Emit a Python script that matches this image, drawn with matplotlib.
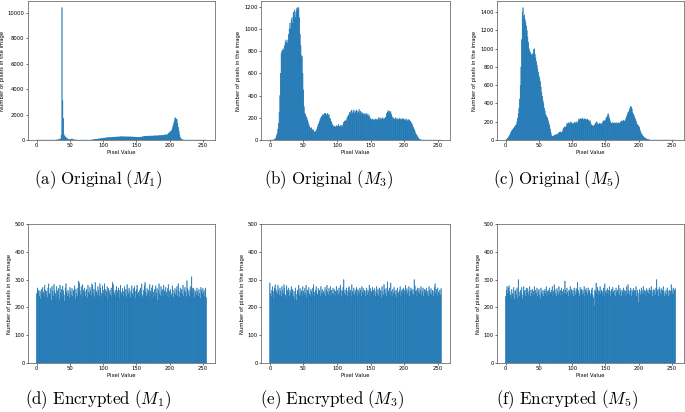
import matplotlib
matplotlib.use("Agg")
import matplotlib.pyplot as plt
import numpy as np

plt.rcParams['mathtext.fontset'] = 'cm'

pixel_values = list(range(256))

orig_m1 = [
    0,0,0,0,0,0,0,0,0,0,0,0,0,0,0,0,
    0,0,0,0,0,0,0,0,0,0,0,0,0,0,5,10,
    20,30,40,60,100,400,10400,3100,1700,420,300,250,200,150,100,60,
    40,30,30,40,60,100,40,20,10,5,3,2,0,0,0,0,
    0,0,0,0,0,0,0,0,0,0,0,0,0,0,0,0,
    0,0,0,0,10,20,30,40,50,60,60,70,80,80,90,100,
    100,110,120,130,140,150,150,160,170,170,180,180,190,190,200,200,
    200,210,210,220,220,230,220,230,240,230,240,250,240,250,260,250,
    260,250,260,250,260,250,240,250,240,250,240,250,240,250,240,230,
    240,230,240,220,230,220,210,220,200,210,200,210,220,230,240,250,
    260,270,280,290,300,300,310,300,310,300,310,320,310,320,310,320,
    320,330,320,330,320,330,340,330,340,350,340,350,360,370,380,360,
    380,420,400,380,420,450,500,550,600,650,700,750,900,1100,1300,1500,
    1700,1750,1650,1600,1300,1000,700,400,200,100,60,30,10,0,0,0,
    0,0,0,0,0,0,0,0,0,0,0,0,0,0,0,0,
    0,0,0,0,0,0,0,0,0,0,0,0,0,0,0,0,
]

orig_m3 = [
    0,0,0,0,0,0,2,5,10,20,40,60,100,150,250,400,
    600,780,800,810,820,800,850,880,900,880,870,900,950,1000,1050,1000,
    1080,1100,1050,1150,1120,1170,1100,1150,1180,1190,1160,1190,1100,950,850,760,
    750,600,450,300,240,230,210,200,180,160,140,120,110,100,110,90,
    95,85,75,70,75,85,100,120,140,150,170,190,200,210,220,230,
    220,240,230,240,230,220,240,220,230,200,190,170,160,140,130,120,
    125,120,115,130,120,125,140,120,125,130,115,130,120,140,160,170,
    165,180,170,200,210,220,230,250,240,260,270,240,250,270,240,260,
    250,270,240,260,250,275,240,260,230,250,240,230,240,230,220,240,
    230,220,235,210,220,200,190,185,180,190,175,185,180,190,170,185,
    180,190,200,180,200,190,185,195,200,190,185,195,200,210,240,250,
    265,250,260,240,255,230,210,190,200,185,190,200,180,195,185,190,
    180,195,185,190,180,195,185,190,180,185,175,190,180,170,185,175,
    180,170,160,150,140,120,110,95,80,60,50,40,30,20,10,5,
    3,2,0,0,0,0,0,0,0,0,0,0,0,0,0,0,
    0,0,0,0,0,0,0,0,0,0,0,0,0,0,0,0,
]

orig_m5 = [
    0,5,10,20,30,40,55,70,90,100,110,120,130,140,150,160,
    170,200,240,290,350,450,600,800,1100,1400,1450,1350,1370,1320,1290,1250,
    1200,1130,1070,1000,980,960,930,940,930,950,990,1000,940,900,860,820,
    780,740,700,680,640,580,520,480,430,400,350,320,280,265,250,240,
    210,180,160,120,80,50,40,40,45,50,55,55,60,60,65,70,
    80,85,90,85,80,90,110,130,140,145,140,150,180,175,190,185,
    180,200,175,190,180,185,175,190,195,180,200,185,190,210,230,220,
    235,230,225,240,230,220,235,225,230,215,225,230,220,215,200,210,
    180,165,160,155,150,160,170,185,190,200,180,175,170,185,175,180,
    175,180,200,210,205,215,210,240,250,265,290,270,240,210,190,185,
    180,190,185,180,190,185,175,190,180,185,190,180,185,200,205,210,
    200,215,210,205,220,240,260,285,300,310,330,350,370,360,340,300,
    285,270,250,230,210,190,170,160,155,140,110,90,70,60,50,40,
    30,25,20,15,10,8,5,3,2,0,0,0,0,0,0,0,
    0,0,0,0,0,0,0,0,0,0,0,0,0,0,0,0,
    0,0,0,0,0,0,0,0,0,0,0,0,0,0,0,0,
]

enc_m1 = [
    250,270,255,262,240,258,230,265,248,272,255,238,280,262,245,258,
    236,270,285,250,242,268,225,276,258,240,283,262,250,230,275,260,
    244,268,228,280,252,265,238,276,260,245,222,270,285,255,240,262,
    250,235,272,258,245,268,240,262,255,278,232,266,250,240,270,295,
    288,260,245,275,238,282,262,250,270,240,258,265,235,280,255,248,
    272,260,242,285,278,250,266,238,290,262,255,245,275,260,240,285,
    270,252,236,278,262,248,285,265,240,258,275,230,268,252,262,245,
    270,240,290,282,255,248,262,238,275,260,250,270,235,262,280,255,
    245,268,258,240,275,250,265,238,282,260,248,270,255,236,262,278,
    250,242,268,275,258,232,265,280,248,255,240,262,270,250,285,238,
    245,262,278,290,255,240,268,250,262,236,282,258,245,270,280,232,
    255,265,240,278,252,268,226,262,285,250,242,275,258,265,238,280,
    260,248,272,255,240,268,282,236,258,265,250,242,278,262,236,252,
    268,245,262,275,240,285,258,236,270,252,265,248,280,240,262,272,
    255,238,296,268,250,262,240,275,258,310,268,252,270,236,262,255,
    245,270,258,240,265,250,232,272,262,248,268,255,240,262,270,235,
]

enc_m3 = [
    288,250,240,262,275,258,232,270,282,265,255,248,280,262,245,270,
    258,240,275,262,250,282,268,245,232,278,262,255,270,240,262,252,
    275,250,265,240,258,232,270,248,225,262,255,280,242,268,250,260,
    240,275,258,245,268,250,280,236,262,255,272,248,240,265,258,245,
    270,282,255,240,262,275,250,245,268,258,262,240,275,252,265,245,
    258,250,272,240,262,280,255,245,268,258,275,238,262,250,270,248,
    265,240,258,276,250,262,245,270,255,280,262,240,258,272,300,250,
    262,245,270,258,240,268,275,252,262,240,282,258,250,270,245,262,
    255,272,240,265,258,248,270,262,240,275,255,268,250,262,240,258,
    270,245,262,255,280,240,268,258,250,272,262,245,268,240,258,275,
    250,265,242,270,255,262,236,275,258,245,282,265,250,268,240,292,
    262,255,270,245,288,258,240,265,250,272,258,245,262,236,270,255,
    248,262,275,240,258,265,252,270,262,245,280,258,268,250,262,275,
    240,258,270,262,250,265,245,300,278,258,262,240,270,255,268,250,
    262,275,245,258,270,240,265,252,262,270,245,258,240,275,262,250,
    268,245,262,258,240,272,285,250,265,240,270,255,248,262,245,268,
]

enc_m5 = [
    240,262,275,250,270,278,258,245,232,265,250,240,272,228,258,262,
    245,270,232,300,255,240,262,250,272,230,245,275,258,262,240,270,
    252,268,245,258,275,240,262,250,265,238,258,275,245,262,250,270,
    240,258,265,245,232,270,255,248,262,240,258,265,250,275,240,258,
    262,245,270,255,248,262,275,240,258,282,265,250,240,268,258,245,
    275,255,262,240,270,258,245,265,250,295,262,248,270,255,240,262,
    258,275,245,265,250,262,240,270,258,245,268,255,290,262,250,240,
    272,258,265,245,262,250,275,240,262,268,255,245,270,258,262,240,
    250,262,270,245,235,205,262,258,288,250,272,262,245,258,275,250,
    262,245,258,270,240,285,255,262,250,268,245,262,275,258,240,265,
    250,272,258,245,262,240,270,255,262,250,280,245,268,258,240,262,
    255,270,245,262,258,240,275,250,282,262,245,258,270,240,262,255,
    268,245,262,258,275,240,262,250,218,265,258,245,270,262,250,275,
    245,262,258,240,268,255,262,250,270,245,262,275,258,240,265,250,
    262,245,270,300,258,265,240,272,262,250,268,245,262,275,258,240,
    250,262,245,270,258,240,262,245,258,282,262,250,270,245,262,268,
]

captions = [
    r"$\mathrm{(a)\ Original\ (}M_1\mathrm{)}$",
    r"$\mathrm{(b)\ Original\ (}M_3\mathrm{)}$",
    r"$\mathrm{(c)\ Original\ (}M_5\mathrm{)}$",
    r"$\mathrm{(d)\ Encrypted\ (}M_1\mathrm{)}$",
    r"$\mathrm{(e)\ Encrypted\ (}M_3\mathrm{)}$",
    r"$\mathrm{(f)\ Encrypted\ (}M_5\mathrm{)}$",
]
series = [orig_m1, orig_m3, orig_m5, enc_m1, enc_m3, enc_m5]
yticks = [
    [0, 2000, 4000, 6000, 8000, 10000],
    [0, 200, 400, 600, 800, 1000, 1200],
    [0, 200, 400, 600, 800, 1000, 1200, 1400],
    [0, 100, 200, 300, 400, 500],
    [0, 100, 200, 300, 400, 500],
    [0, 100, 200, 300, 400, 500],
]
xticks = [0, 50, 100, 150, 200, 250]

W, H = 685, 412
fig = plt.figure(figsize=(W / 100, H / 100), dpi=100)

# axes boxes in pixels: left, right, top, bottom
boxes = [
    (28, 215, 1, 140),
    (261, 450, 1, 140),
    (497, 684, 1, 140),
    (28, 215, 224, 363),
    (261, 450, 224, 363),
    (497, 684, 224, 363),
]
cap_pos = [(98, 180), (329, 180), (557, 180), (98, 400), (332, 400), (567, 400)]

fs = 3.8
for i, (vals, box) in enumerate(zip(series, boxes)):
    l, r, t, b = box
    ax = fig.add_axes([l / W, 1 - b / H, (r - l) / W, (b - t) / H])
    bars = ax.bar(pixel_values, vals, width=0.8, color='#1f77b4',
                  edgecolor='#1f77b4', linewidth=0.3)
    for p in bars:
        p.set_snap(False)
    ax.set_xticks(xticks)
    ax.set_yticks(yticks[i])
    if i >= 3:
        ax.set_ylim(0, 500)
    ax.tick_params(labelsize=fs, length=1.5, width=0.4, pad=1)
    ax.set_xlabel("Pixel Value", fontsize=fs, labelpad=1)
    ax.set_ylabel("Number of pixels in the image", fontsize=fs, labelpad=2)
    for s in ax.spines.values():
        s.set_linewidth(0.5)
        s.set_color('#555555')
    cx, cy = cap_pos[i]
    fig.text(cx / W, 1 - cy / H, captions[i], fontsize=12.2, ha='center', va='center')

fig.savefig("out.png", dpi=100)
